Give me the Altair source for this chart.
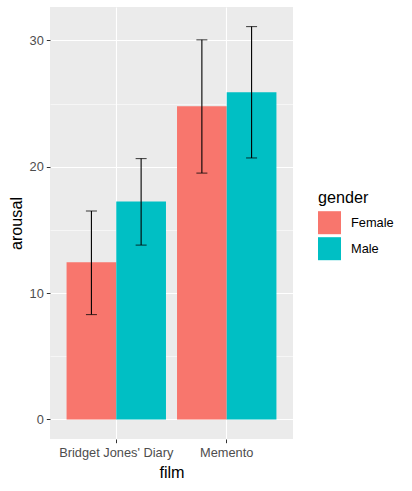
import altair as alt
import pandas as pd

# Mean arousal by film and gender, with the error-bar limits
films = ["Bridget Jones' Diary", "Bridget Jones' Diary", "Memento", "Memento"]
genders = ["Female", "Male", "Female", "Male"]
arousal = [12.45, 17.25, 24.8, 25.9]
lower = [8.3, 13.8, 19.5, 20.7]
upper = [16.5, 20.65, 30.05, 31.1]

df = pd.DataFrame({
    "film": films,
    "gender": genders,
    "arousal": arousal,
    "lower": lower,
    "upper": upper,
})

FONT = "Liberation Sans"
LABEL_SIZE = 12.8
TITLE_SIZE = 16.2
ymin, ymax = -1.55, 32.65

x_enc = alt.X(
    "film:N",
    title="film",
    scale=alt.Scale(paddingInner=0.1, paddingOuter=0.15),
    axis=alt.Axis(
        labelAngle=0,
        grid=True,
        gridColor="white",
        gridWidth=1.1,
        domain=False,
        tickColor="#333333",
        tickSize=3.7,
        labelColor="#4D4D4D",
        labelFontSize=LABEL_SIZE,
        labelPadding=4,
        titleFontSize=TITLE_SIZE,
        titleFontWeight="normal",
        titleColor="black",
        titlePadding=5,
    ),
)
xoff = alt.XOffset("gender:N", scale=alt.Scale(paddingInner=0, paddingOuter=0))

y_scale = alt.Scale(domain=[ymin, ymax], nice=False, zero=False)
y_axis = alt.Axis(
    values=[0, 5, 10, 15, 20, 25, 30],
    labelExpr="datum.value % 10 === 0 ? datum.label : ''",
    grid=True,
    gridColor="white",
    gridWidth={"condition": {"test": "datum.value % 10 !== 0", "value": 0.55}, "value": 1.1},
    tickOpacity={"condition": {"test": "datum.value % 10 !== 0", "value": 0}, "value": 1},
    domain=False,
    tickColor="#333333",
    tickSize=3.7,
    labelColor="#4D4D4D",
    labelFontSize=LABEL_SIZE,
    labelPadding=3,
    titleFontSize=TITLE_SIZE,
    titleFontWeight="normal",
    titleColor="black",
    titlePadding=5,
)

color = alt.Color(
    "gender:N",
    title="gender",
    scale=alt.Scale(domain=["Female", "Male"], range=["#F8766D", "#00BFC4"]),
    legend=alt.Legend(
        orient="none",
        legendX=268,
        legendY=183,
        symbolType="square",
        symbolSize=529,
        symbolStrokeWidth=0,
        symbolOpacity=1,
        titleFontSize=TITLE_SIZE,
        titleFontWeight="normal",
        titleColor="black",
        titlePadding=5,
        labelFontSize=LABEL_SIZE,
        labelColor="black",
        labelOffset=10,
        rowPadding=3,
    ),
)

bars = alt.Chart(df).mark_bar(width={"band": 1}).encode(
    x=x_enc,
    xOffset=xoff,
    y=alt.Y("arousal:Q", title="arousal", scale=y_scale, axis=y_axis),
    color=color,
)

stems = alt.Chart(df).mark_rule(color="black", strokeWidth=1.1).encode(
    x=alt.X("film:N"),
    xOffset=xoff,
    y=alt.Y("lower:Q"),
    y2="upper:Q",
)

caps_low = alt.Chart(df).mark_tick(color="black", size=11, thickness=1.1).encode(
    x=alt.X("film:N"),
    xOffset=xoff,
    y=alt.Y("lower:Q"),
)
caps_high = alt.Chart(df).mark_tick(color="black", size=11, thickness=1.1).encode(
    x=alt.X("film:N"),
    xOffset=xoff,
    y=alt.Y("upper:Q"),
)

chart = alt.layer(bars, stems, caps_low, caps_high).properties(
    width=243,
    height=432,
    autosize=alt.AutoSizeParams(type="none"),
    padding={"left": 50, "top": 7, "right": 119, "bottom": 52},
    background="white",
).configure(
    font=FONT,
).configure_view(
    fill="#EBEBEB",
    strokeWidth=0,
)

chart.save("out.html", embed_options={"renderer": "svg", "actions": False})
